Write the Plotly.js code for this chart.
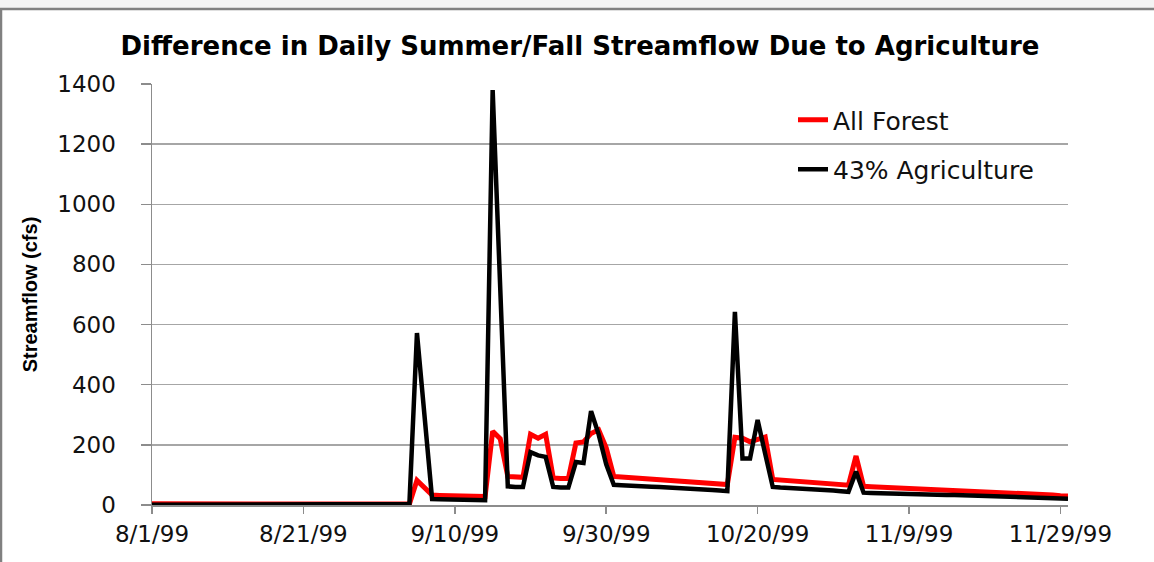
<!DOCTYPE html>
<html>
<head>
<meta charset="utf-8">
<script src="https://cdn.plot.ly/plotly-3.0.1.min.js"></script>
<style>
  html, body { margin: 0; padding: 0; background: #ffffff; }
  #chart { width: 1154px; height: 562px; }
</style>
</head>
<body>
<div id="chart"></div>
<script>
// ---- Data ----
var startDate = '1999-08-01';   // first daily value
var endDate = '1999-11-30';     // last daily value

var seriesNames = ['All Forest', '43% Agriculture'];

// daily streamflow (cfs), 8/1/99 .. 11/30/99
var allForest = [
  4, 4, 4, 4, 4, 4, 4, 4, 4, 4,            // 8/1 - 8/10
  1, 1, 1, 1, 1, 1, 1, 1, 1, 1,            // 8/11 - 8/20
  1, 1, 1, 1, 1, 1, 1, 1, 1, 1,            // 8/21 - 8/30
  1, 1, 1, 1,                              // 8/31 - 9/3
  3, 82, 55, 33, 32, 32, 31, 30, 30, 29, 28,   // 9/4 - 9/14
  245, 220, 95, 93, 92, 235, 222, 235, 90, 88, // 9/15 - 9/24
  88, 206, 210, 238, 250, 190,                 // 9/25 - 9/30
  95, 93, 91, 89, 87, 85, 83, 81, 79, 77,      // 10/1 - 10/10
  76, 74, 73, 71, 70, 68,                      // 10/11 - 10/16
  225, 222, 210, 218, 226, 85,                 // 10/17 - 10/22
  83, 81, 79, 77, 75, 73, 71, 69, 68, 66,      // 10/23 - 11/1
  163, 62,                                     // 11/2 - 11/3
  61, 60, 59, 57, 56, 55, 54, 52, 51, 50,
  49, 47, 46, 45, 44, 43, 42, 41, 40, 38,
  37, 36, 35, 34, 33, 31, 30                   // ... 11/30
];

var agriculture43 = [
  1, 1, 1, 1, 1, 1, 1, 1, 1, 1,
  1, 1, 1, 1, 1, 1, 1, 1, 1, 1,
  1, 1, 1, 1, 1, 1, 1, 1, 1, 1,
  1, 1, 1, 1,
  3, 572, 290, 20, 19, 19, 18, 18, 17, 17, 16,
  1380, 700, 62, 60, 60, 176, 165, 160, 60, 58,
  58, 143, 140, 312, 235, 135,
  67, 66, 64, 63, 62, 61, 60, 59, 58, 57,
  55, 53, 51, 50, 48, 46,
  642, 155, 155, 283, 170, 60,
  58, 57, 55, 54, 52, 51, 49, 48, 46, 44,
  111, 41,
  40, 39, 39, 38, 37, 37, 36, 35, 35, 34,
  33, 33, 32, 31, 31, 30, 29, 28, 28, 27,
  26, 25, 25, 24, 23, 22, 21
];

var yTickValues = [0, 200, 400, 600, 800, 1000, 1200, 1400];

// daily date labels for the x axis
function dailyDates(start, n) {
  var out = [];
  var t0 = new Date(start + 'T00:00:00Z').getTime();
  for (var i = 0; i < n; i++) {
    var d = new Date(t0 + i * 86400000);
    out.push(d.toISOString().slice(0, 10));
  }
  return out;
}
var dates = dailyDates(startDate, allForest.length);

// ---- Figure ----
var gridGray = '#a6a6a6';
var axisGray = '#8c8c8c';
var textFont = 'DejaVu Sans, Verdana, sans-serif';

var traces = [
  {
    x: dates, y: allForest, name: seriesNames[0], type: 'scatter', mode: 'lines',
    line: { color: '#ff0000', width: 5 }, legendgroup: 'a'
  },
  {
    x: dates, y: agriculture43, name: seriesNames[1], type: 'scatter', mode: 'lines',
    line: { color: '#000000', width: 4.5 }, legendgroup: 'b'
  }
];

var W = 1154, H = 562;
var mL = 152, mR = 86, mT = 84, mB = 57;
var pw = W - mL - mR, ph = H - mT - mB;
function px2x(px) { return (px - mL) / pw; }
function py2y(py) { return (H - mB - py) / ph; }

var layout = {
  width: W, height: H,
  margin: { l: mL, r: mR, t: mT, b: mB, pad: 0 },
  paper_bgcolor: '#ffffff',
  plot_bgcolor: '#ffffff',
  showlegend: true,
  title: {
    text: 'Difference in Daily Summer/Fall Streamflow Due to Agriculture',
    font: { family: textFont, size: 26, color: '#000000', weight: 'bold' },
    x: 580 / W, xanchor: 'center', xref: 'container',
    y: 1 - 46 / H, yanchor: 'middle', yref: 'container'
  },
  xaxis: {
    type: 'date',
    range: [startDate, endDate],
    tick0: startDate,
    dtick: 20 * 86400000,
    tickformat: '%-m/%-d/%y',
    showgrid: false,
    zeroline: false,
    showline: true, linecolor: axisGray, linewidth: 1.5,
    ticks: 'outside', ticklen: 7, tickcolor: axisGray, tickwidth: 1.5,
    ticklabelstandoff: 1,
    tickfont: { family: textFont, size: 23, color: '#111111' },
    fixedrange: true
  },
  yaxis: {
    range: [0, 1400],
    tickvals: yTickValues,
    showgrid: true, gridcolor: gridGray, gridwidth: 1.5,
    zeroline: false,
    showline: true, linecolor: axisGray, linewidth: 1.5,
    ticks: 'outside', ticklen: 10, tickcolor: axisGray, tickwidth: 1.5,
    ticklabelstandoff: 20,
    tickfont: { family: textFont, size: 23, color: '#111111' },
    title: {
      text: 'Streamflow (cfs)',
      font: { family: 'Liberation Sans, Arial, sans-serif', size: 20, color: '#000000', weight: 'bold' },
      standoff: 14
    },
    fixedrange: true
  },
  legend: {
    x: px2x(793), xanchor: 'left',
    y: py2y(97), yanchor: 'top',
    bgcolor: 'rgba(0,0,0,0)',
    borderwidth: 0,
    traceorder: 'grouped',
    tracegroupgap: 14,
    font: { family: textFont, size: 25, color: '#111111' }
  },
  shapes: [
    // light band above chart frame
    { type: 'rect', xref: 'paper', yref: 'paper', x0: px2x(-5), x1: px2x(W + 5), y0: py2y(8), y1: py2y(-5),
      fillcolor: '#f3f3f3', line: { width: 0 }, layer: 'above' },
    // chart frame top edge
    { type: 'line', xref: 'paper', yref: 'paper', x0: px2x(0), x1: px2x(W + 5), y0: py2y(9), y1: py2y(9),
      line: { color: '#808080', width: 2.5 }, layer: 'above' },
    // chart frame left edge
    { type: 'line', xref: 'paper', yref: 'paper', x0: px2x(1), x1: px2x(1), y0: py2y(9), y1: py2y(H + 5),
      line: { color: '#808080', width: 2.5 }, layer: 'above' }
  ]
};

Plotly.newPlot('chart', traces, layout, { displayModeBar: false, staticPlot: true });
</script>
</body>
</html>
